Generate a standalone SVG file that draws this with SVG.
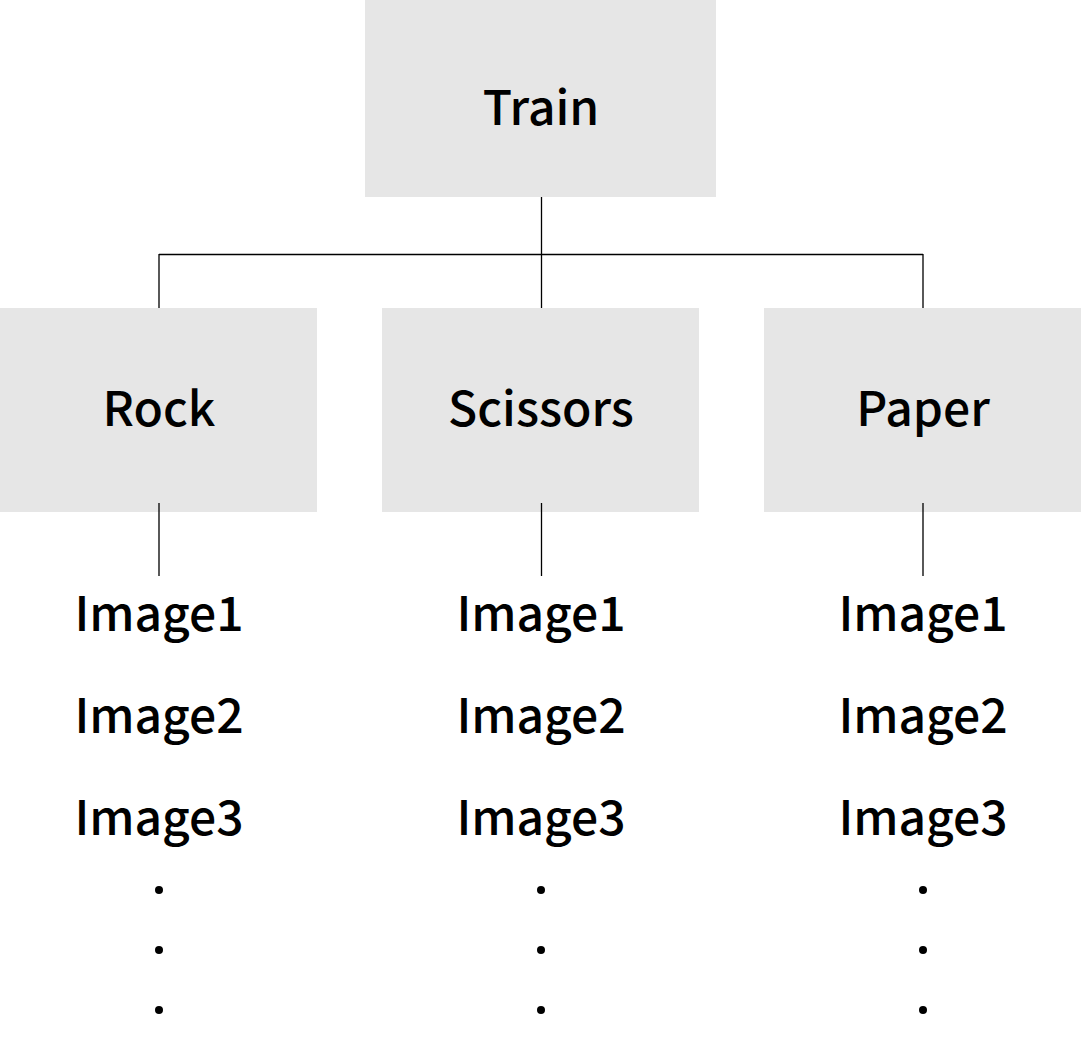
<svg xmlns="http://www.w3.org/2000/svg" width="1081" height="1058" viewBox="0 0 1081 1058">
<style>
.box{fill:#e6e6e6}
.t{font-family:"Noto Sans CJK SC","Noto Sans",sans-serif;font-size:48px;font-weight:500;fill:#000;text-anchor:middle}
.c{stroke:#000;stroke-width:1.3;fill:none}
.d{fill:#000}
</style>
<rect width="1081" height="1058" fill="#fff"/>
<g id="train"><rect class="box" x="365" y="0" width="351" height="197"/><text class="t" x="541" y="125">Train</text></g>
<g id="rock"><rect class="box" x="0" y="308" width="317" height="204"/><text class="t" x="159" y="426">Rock</text></g>
<g id="scissors"><rect class="box" x="382" y="308" width="317" height="204"/><text class="t" x="541" y="426">Scissors</text></g>
<g id="paper"><rect class="box" x="764" y="308" width="317" height="204"/><text class="t" x="923" y="426">Paper</text></g>
<g id="rock-list">
<text class="t" x="159" y="631">Image1</text><text class="t" x="159" y="733">Image2</text><text class="t" x="159" y="835">Image3</text>
<circle class="d" cx="159" cy="890" r="4"/><circle class="d" cx="159" cy="950" r="4"/><circle class="d" cx="159" cy="1010" r="4"/>
</g>
<g id="scissors-list">
<text class="t" x="541" y="631">Image1</text><text class="t" x="541" y="733">Image2</text><text class="t" x="541" y="835">Image3</text>
<circle class="d" cx="541" cy="890" r="4"/><circle class="d" cx="541" cy="950" r="4"/><circle class="d" cx="541" cy="1010" r="4"/>
</g>
<g id="paper-list">
<text class="t" x="923" y="631">Image1</text><text class="t" x="923" y="733">Image2</text><text class="t" x="923" y="835">Image3</text>
<circle class="d" cx="923" cy="890" r="4"/><circle class="d" cx="923" cy="950" r="4"/><circle class="d" cx="923" cy="1010" r="4"/>
</g>
<g id="connectors">
<path class="c" d="M541.5 197V308M159 254.5H923M159 254V308M923 254V308"/>
<path class="c" d="M159 503V576M541.5 503V576M923 503V576"/>
</g>
</svg>
